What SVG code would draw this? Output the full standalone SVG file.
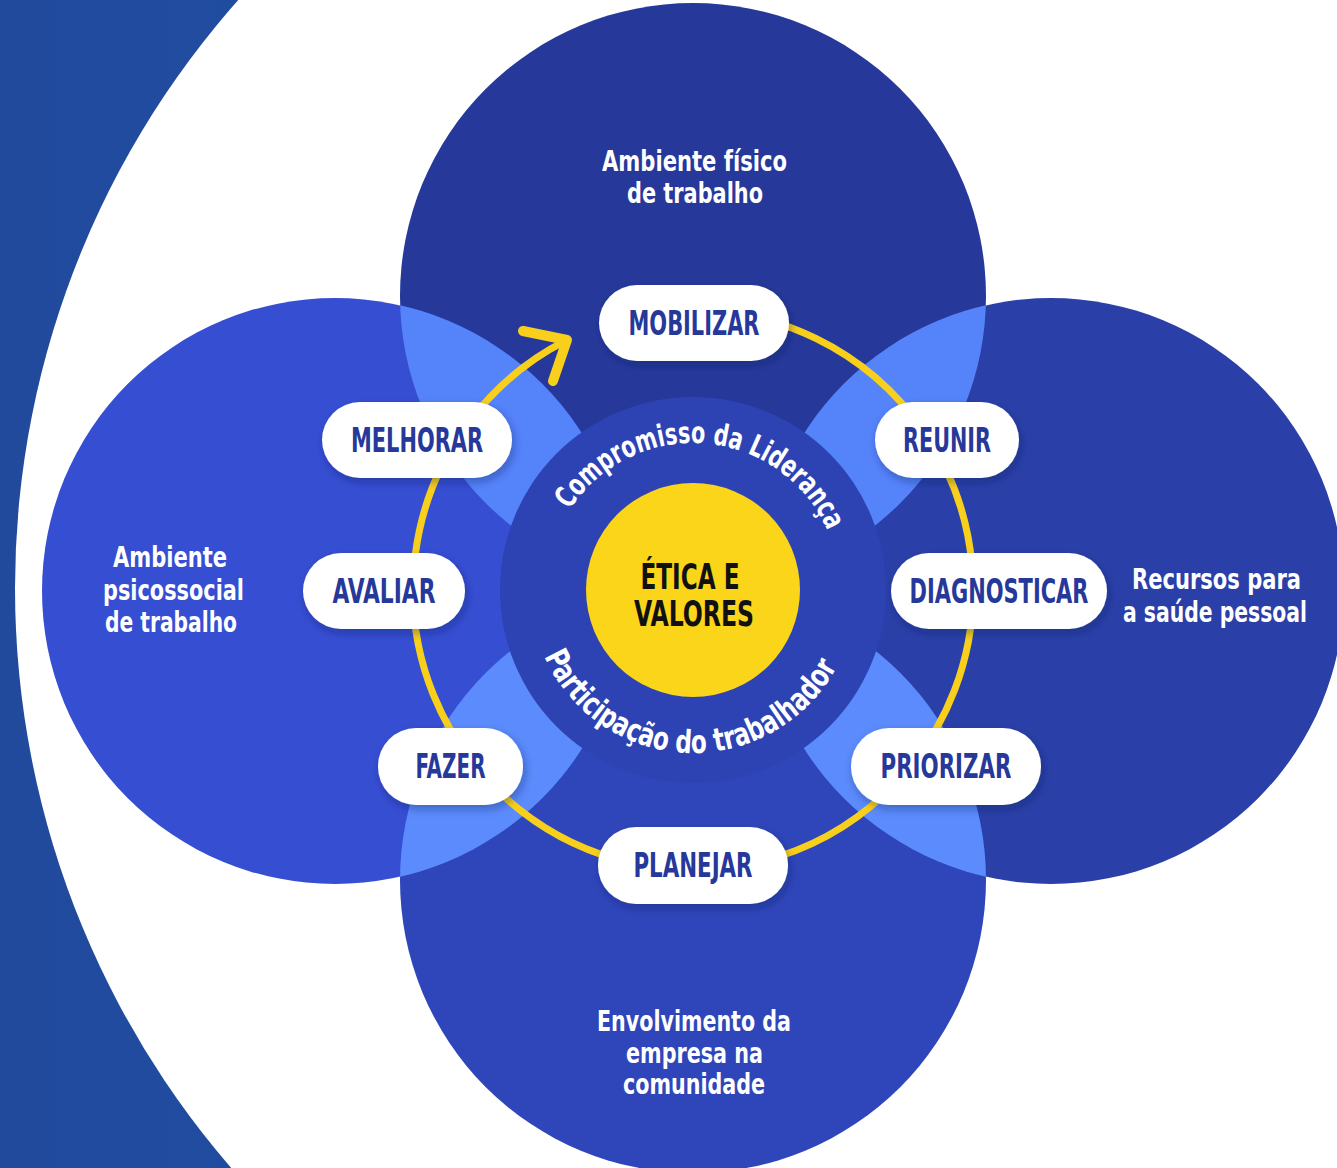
<svg xmlns="http://www.w3.org/2000/svg" width="1337" height="1168" viewBox="0 0 1337 1168">
  <defs>
    <linearGradient id="band" x1="0" y1="0" x2="1" y2="0">
      <stop offset="0" stop-color="#214a9d"/>
      <stop offset="1" stop-color="#1e56aa"/>
    </linearGradient>
    <clipPath id="cTop"><circle cx="693" cy="296" r="293"/></clipPath>
    <clipPath id="cBottom"><circle cx="693" cy="880" r="293"/></clipPath>
    <filter id="shadow" x="-20%" y="-30%" width="140%" height="170%">
      <feDropShadow dx="2" dy="4" stdDeviation="4" flood-color="#0a1450" flood-opacity="0.35"/>
    </filter>
    <path id="arcTop" d="M 569.7 509.9 A 147 147 0 0 1 827.3 530.2"/>
    <path id="arcBottom" d="M 544.1 656.3 A 163 163 0 0 0 836.9 666.5"/>
    <style>
      .lbl { font-family: "Liberation Sans Narrow", "DejaVu Sans Condensed", "Liberation Sans", sans-serif; font-weight: bold; }
      .pill rect { fill: #ffffff; filter: url(#shadow); }
      .pill text { fill: #26389a; font-size: 33px; text-anchor: middle; }
      .area text { fill: #ffffff; font-size: 28px; text-anchor: middle; }
      .over { fill: #5583fa; }
      .curved { fill: #ffffff; }
    </style>
  </defs>

  <!-- background -->
  <rect x="0" y="0" width="1337" height="1168" fill="url(#band)"/>
  <circle cx="901" cy="588" r="886" fill="#ffffff"/>

  <!-- big circles -->
  <g id="circle-top"><circle cx="693" cy="296" r="293" fill="#26399a"/></g>
  <g id="circle-bottom"><circle cx="693" cy="880" r="293" fill="#2f46ba"/></g>
  <g id="circle-left"><circle cx="335" cy="591" r="293" fill="#364ed2"/></g>
  <g id="circle-right"><circle cx="1051" cy="591" r="293" fill="#2a40a8"/></g>

  <!-- overlaps -->
  <g id="overlaps">
    <circle class="over" cx="335" cy="591" r="293" clip-path="url(#cTop)"/>
    <circle class="over" cx="1051" cy="591" r="293" clip-path="url(#cTop)"/>
    <circle class="over" cx="335" cy="591" r="293" clip-path="url(#cBottom)" style="fill:#5b8bfc"/>
    <circle class="over" cx="1051" cy="591" r="293" clip-path="url(#cBottom)" style="fill:#5b8bfc"/>
  </g>

  <!-- center disk -->
  <g id="center-disk"><circle cx="693" cy="590" r="193" fill="#2d43b3"/></g>

  <!-- connectors: yellow cycle ring with arrow -->
  <g id="connectors" fill="none" stroke="#f8d01c" stroke-linecap="round" stroke-linejoin="round">
    <path d="M 565.8 340.6 A 280 280 0 1 0 693 310" stroke-width="7"/>
    <path d="M 523 331 L 567 340 L 553 381" stroke-width="10"/>
  </g>

  <!-- core -->
  <g id="core">
    <circle cx="693" cy="590" r="107" fill="#fad51a"/>
    <text class="lbl" x="690" y="589" font-size="36" fill="#111111" text-anchor="middle" textLength="99" lengthAdjust="spacingAndGlyphs">ÉTICA E</text>
    <text class="lbl" x="694" y="626" font-size="36" fill="#111111" text-anchor="middle" textLength="120" lengthAdjust="spacingAndGlyphs">VALORES</text>
  </g>

  <!-- curved labels -->
  <g id="ring-labels">
    <text class="lbl curved" font-size="30"><textPath href="#arcTop" textLength="316" lengthAdjust="spacingAndGlyphs">Compromisso da Liderança</textPath></text>
    <text class="lbl curved" font-size="32"><textPath href="#arcBottom" textLength="364" lengthAdjust="spacingAndGlyphs">Participação do trabalhador</textPath></text>
  </g>

  <!-- area labels -->
  <g id="label-top" class="area lbl">
    <text x="694.5" y="171" textLength="185" lengthAdjust="spacingAndGlyphs">Ambiente físico</text>
    <text x="695" y="203" textLength="136" lengthAdjust="spacingAndGlyphs">de trabalho</text>
  </g>
  <g id="label-left" class="area lbl">
    <text x="170" y="567" textLength="114" lengthAdjust="spacingAndGlyphs">Ambiente</text>
    <text x="173.5" y="600" textLength="141" lengthAdjust="spacingAndGlyphs">psicossocial</text>
    <text x="171" y="632" textLength="132" lengthAdjust="spacingAndGlyphs">de trabalho</text>
  </g>
  <g id="label-right" class="area lbl">
    <text x="1216.5" y="589" textLength="169" lengthAdjust="spacingAndGlyphs">Recursos para</text>
    <text x="1215" y="622" textLength="184" lengthAdjust="spacingAndGlyphs">a saúde pessoal</text>
  </g>
  <g id="label-bottom" class="area lbl">
    <text x="694" y="1031" textLength="194" lengthAdjust="spacingAndGlyphs">Envolvimento da</text>
    <text x="694.5" y="1063" textLength="137" lengthAdjust="spacingAndGlyphs">empresa na</text>
    <text x="694" y="1094" textLength="142" lengthAdjust="spacingAndGlyphs">comunidade</text>
  </g>

  <!-- step pills -->
  <g id="step-mobilizar" class="pill lbl">
    <rect x="599" y="285" width="190" height="76" rx="38"/>
    <text x="694" y="335" textLength="131" lengthAdjust="spacingAndGlyphs">MOBILIZAR</text>
  </g>
  <g id="step-reunir" class="pill lbl">
    <rect x="875" y="402" width="144" height="76" rx="38"/>
    <text x="947" y="452" textLength="88" lengthAdjust="spacingAndGlyphs">REUNIR</text>
  </g>
  <g id="step-diagnosticar" class="pill lbl">
    <rect x="891" y="553" width="216" height="76" rx="38"/>
    <text x="999" y="603" textLength="179" lengthAdjust="spacingAndGlyphs">DIAGNOSTICAR</text>
  </g>
  <g id="step-priorizar" class="pill lbl">
    <rect x="851" y="728" width="190" height="77" rx="38"/>
    <text x="946" y="778" textLength="131" lengthAdjust="spacingAndGlyphs">PRIORIZAR</text>
  </g>
  <g id="step-planejar" class="pill lbl">
    <rect x="598" y="827" width="190" height="77" rx="38"/>
    <text x="693" y="877" textLength="119" lengthAdjust="spacingAndGlyphs">PLANEJAR</text>
  </g>
  <g id="step-fazer" class="pill lbl">
    <rect x="378" y="728" width="145" height="77" rx="38"/>
    <text x="450.5" y="778" textLength="70" lengthAdjust="spacingAndGlyphs">FAZER</text>
  </g>
  <g id="step-avaliar" class="pill lbl">
    <rect x="303" y="553" width="162" height="76" rx="38"/>
    <text x="384" y="603" textLength="103" lengthAdjust="spacingAndGlyphs">AVALIAR</text>
  </g>
  <g id="step-melhorar" class="pill lbl">
    <rect x="322" y="402" width="190" height="76" rx="38"/>
    <text x="417" y="452" textLength="132" lengthAdjust="spacingAndGlyphs">MELHORAR</text>
  </g>
</svg>
